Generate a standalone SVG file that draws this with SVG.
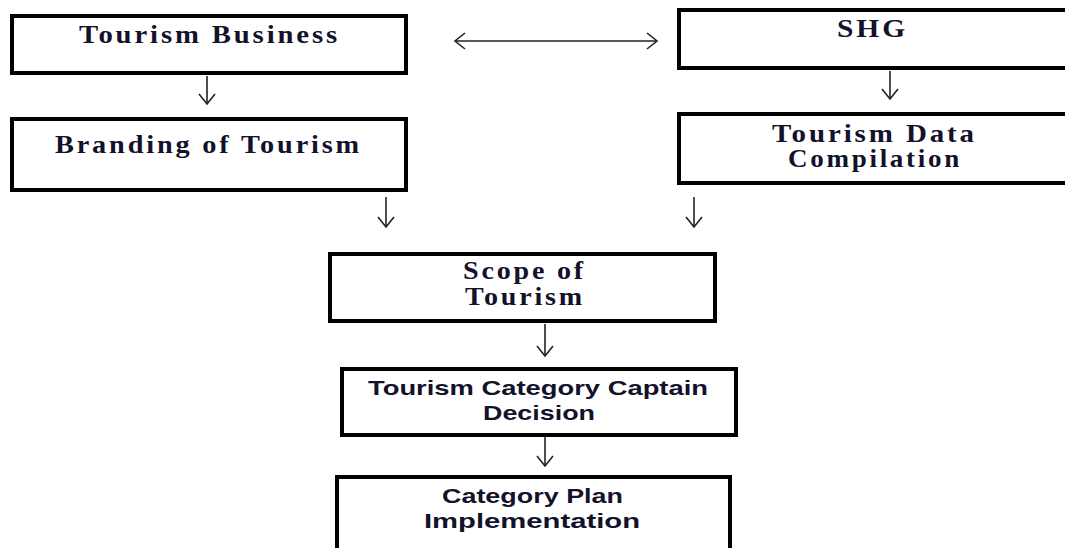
<svg xmlns="http://www.w3.org/2000/svg" width="1065" height="548" viewBox="0 0 1065 548">
<style>
.box{fill:#fff;stroke:#000;stroke-width:4}
.ser{font-family:"Liberation Serif","Times New Roman",serif;font-weight:bold;font-size:25px;letter-spacing:2.5px;fill:#12122a}
.san{font-family:"Liberation Sans",Arial,sans-serif;font-weight:bold;font-size:21px;fill:#12122a}
.con{stroke:#222;stroke-width:1.6;fill:none}
</style>
<defs>
<marker id="ah" markerUnits="userSpaceOnUse" markerWidth="24" markerHeight="24" viewBox="-12 -12 24 24" refX="0" refY="0" orient="auto-start-reverse">
<path d="M-10,-8 L0,0 L-10,8" fill="none" stroke="#222" stroke-width="1.6"/>
</marker>
</defs>
<rect width="1065" height="548" fill="#fff"/>
<g id="tourism-business">
<rect class="box" x="12" y="16" width="394" height="57"/>
<text class="ser" x="79" y="43" textLength="261" lengthAdjust="spacingAndGlyphs">Tourism Business</text>
</g>
<g id="branding">
<rect class="box" x="12" y="119" width="394" height="71"/>
<text class="ser" x="55" y="153" textLength="307" lengthAdjust="spacingAndGlyphs">Branding of Tourism</text>
</g>
<g id="shg">
<rect class="box" x="679" y="10" width="400" height="58"/>
<text class="ser" x="837" y="37" textLength="71" lengthAdjust="spacingAndGlyphs">SHG</text>
</g>
<g id="data-compilation">
<rect class="box" x="679" y="114" width="400" height="69"/>
<text class="ser" x="772" y="142" textLength="205" lengthAdjust="spacingAndGlyphs">Tourism Data</text>
<text class="ser" x="788" y="167" textLength="174" lengthAdjust="spacingAndGlyphs">Compilation</text>
</g>
<g id="scope">
<rect class="box" x="330" y="254" width="385" height="67"/>
<text class="ser" x="463" y="279" textLength="123" lengthAdjust="spacingAndGlyphs">Scope of</text>
<text class="ser" x="465" y="305" textLength="120" lengthAdjust="spacingAndGlyphs">Tourism</text>
</g>
<g id="captain-decision">
<rect class="box" x="342" y="369" width="394" height="66"/>
<text class="san" x="368" y="395" textLength="340" lengthAdjust="spacingAndGlyphs">Tourism Category Captain</text>
<text class="san" x="483" y="420" textLength="112" lengthAdjust="spacingAndGlyphs">Decision</text>
</g>
<g id="plan-implementation">
<rect class="box" x="337" y="477" width="393" height="90"/>
<text class="san" x="442" y="503" textLength="181" lengthAdjust="spacingAndGlyphs">Category Plan</text>
<text class="san" x="424" y="528" textLength="216" lengthAdjust="spacingAndGlyphs">Implementation</text>
</g>
<g id="connectors">
<line class="con" x1="455" y1="41" x2="657" y2="41" marker-start="url(#ah)" marker-end="url(#ah)"/>
<line class="con" x1="207" y1="76" x2="207" y2="104" marker-end="url(#ah)"/>
<line class="con" x1="890" y1="71" x2="890" y2="99" marker-end="url(#ah)"/>
<line class="con" x1="386" y1="197" x2="386" y2="227" marker-end="url(#ah)"/>
<line class="con" x1="694" y1="197" x2="694" y2="227" marker-end="url(#ah)"/>
<line class="con" x1="545" y1="324" x2="545" y2="356" marker-end="url(#ah)"/>
<line class="con" x1="545" y1="437" x2="545" y2="466" marker-end="url(#ah)"/>
</g>
</svg>
